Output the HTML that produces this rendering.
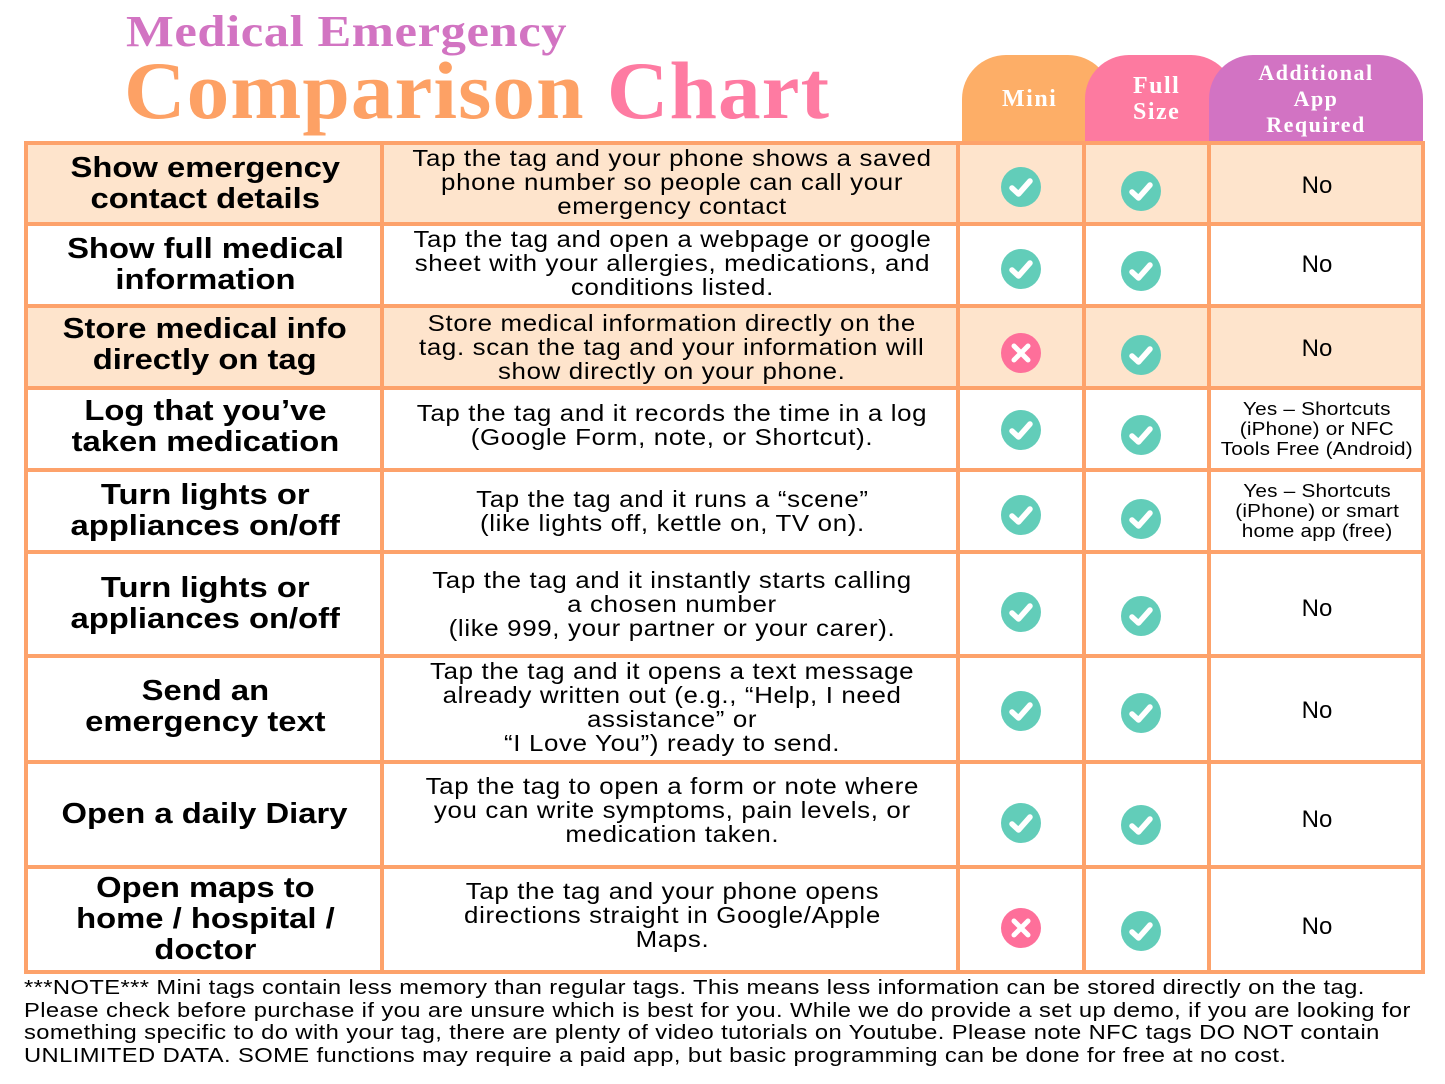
<!DOCTYPE html>
<html><head><meta charset="utf-8"><style>
body{margin:0;width:1445px;height:1084px;background:#fff;position:relative;overflow:hidden;font-family:"Liberation Sans",sans-serif}
.a{position:absolute}
.t1{left:126px;top:6px;font:bold 44px "Liberation Serif",serif;color:#d274c2;letter-spacing:0.5px;transform:scaleX(1.15);transform-origin:left}
.t2{left:124px;top:44px;font:bold 82px "Liberation Serif",serif;color:#fda165;letter-spacing:1px;transform:scaleX(1.04);transform-origin:left}
.t2 span{color:#fe7ba2}
.tab{position:absolute;top:55px;height:88px;border-radius:44px 44px 0 0;color:#fff;font:bold 24px "Liberation Serif",serif;display:flex;align-items:center;justify-content:center;text-align:center;line-height:26px;letter-spacing:1.5px}
.hl{position:absolute;left:24px;width:1401px;height:4px;background:#fda26b}
.vl{position:absolute;top:141px;height:833px;width:4px;background:#fda26b}
.bg{position:absolute;left:24px;width:1401px;background:#fee4cc}
.c{position:absolute;display:flex;align-items:center;justify-content:center;text-align:center;color:#000}
.c>span{display:inline-block;white-space:nowrap}
.f{left:28px;width:354px;font-weight:bold;font-size:29px;line-height:31px}
.f>span{transform:scaleX(1.13)}
.d{left:386px;width:572px;font-size:23.5px;line-height:24px;letter-spacing:0.6px}
.d>span{transform:scaleX(1.1)}
.n{left:1213px;width:208px;font-size:24px}
.y{left:1213px;width:208px;font-size:18.5px;line-height:20px;letter-spacing:0.2px}
.y>span{transform:scaleX(1.12)}
.ic{position:absolute;width:40px;height:40px}
.foot{left:24px;top:977px;font-size:20.3px;line-height:22.6px;color:#000;white-space:nowrap;letter-spacing:0.35px;transform:scaleX(1.17);transform-origin:left}
</style></head><body>
<div class="a t1">Medical Emergency</div>
<div class="a t2">Comparison <span>Chart</span></div>
<div class="tab" style="left:962px;width:150px;background:#fdae67;justify-content:flex-start;padding-left:40px;box-sizing:border-box">Mini</div>
<div class="tab" style="left:1085px;width:150px;background:#fd7aa0;justify-content:flex-start;padding-left:48px;box-sizing:border-box">Full<br>Size</div>
<div class="tab" style="left:1209px;width:214px;background:#d273c3;font-size:22px;line-height:26px">Additional<br>App<br>Required</div>

<div class="bg" style="top:143px;height:81px"></div>
<div class="bg" style="top:306px;height:82px"></div>

<div class="hl" style="top:141px"></div>
<div class="hl" style="top:222px"></div>
<div class="hl" style="top:304px"></div>
<div class="hl" style="top:386px"></div>
<div class="hl" style="top:468px"></div>
<div class="hl" style="top:550px"></div>
<div class="hl" style="top:654px"></div>
<div class="hl" style="top:760px"></div>
<div class="hl" style="top:865px"></div>
<div class="hl" style="top:970px"></div>
<div class="vl" style="left:24px"></div>
<div class="vl" style="left:380px"></div>
<div class="vl" style="left:956px"></div>
<div class="vl" style="left:1082px"></div>
<div class="vl" style="left:1207px"></div>
<div class="vl" style="left:1421px"></div>

<div class="c f" style="top:145px;height:77px"><span>Show emergency<br>contact details</span></div>
<div class="c d" style="top:143px;height:77px"><span>Tap the tag and your phone shows a saved<br>phone number so people can call your<br>emergency contact</span></div>
<div class="c n" style="top:147px;height:77px">No</div>

<div class="c f" style="top:226px;height:78px"><span>Show full medical<br>information</span></div>
<div class="c d" style="top:224px;height:78px"><span>Tap the tag and open a webpage or google<br>sheet with your allergies, medications, and<br>conditions listed.</span></div>
<div class="c n" style="top:226px;height:78px">No</div>

<div class="c f" style="top:306px;height:78px"><span>Store medical info<br>directly on tag</span></div>
<div class="c d" style="top:308px;height:78px"><span>Store medical information directly on the<br>tag. scan the tag and your information will<br>show directly on your phone.</span></div>
<div class="c n" style="top:310px;height:78px">No</div>

<div class="c f" style="top:392px;height:70px"><span>Log that you’ve<br>taken medication</span></div>
<div class="c d" style="top:390px;height:70px"><span>Tap the tag and it records the time in a log<br>(Google Form, note, or Shortcut).</span></div>
<div class="c y" style="top:390px;height:78px"><span>Yes – Shortcuts<br>(iPhone) or NFC<br>Tools Free (Android)</span></div>

<div class="c f" style="top:472px;height:78px"><span>Turn lights or<br>appliances on/off</span></div>
<div class="c d" style="top:472px;height:78px"><span>Tap the tag and it runs a “scene”<br>(like lights off, kettle on, TV on).</span></div>
<div class="c y" style="top:472px;height:78px"><span>Yes – Shortcuts<br>(iPhone) or smart<br>home app (free)</span></div>

<div class="c f" style="top:556px;height:96px"><span>Turn lights or<br>appliances on/off</span></div>
<div class="c d" style="top:556px;height:96px"><span>Tap the tag and it instantly starts calling<br>a chosen number<br>(like 999, your partner or your carer).</span></div>
<div class="c n" style="top:556px;height:106px">No</div>

<div class="c f" style="top:656px;height:102px"><span>Send an<br>emergency text</span></div>
<div class="c d" style="top:656px;height:102px"><span>Tap the tag and it opens a text message<br>already written out (e.g., “Help, I need<br>assistance” or<br>“I Love You”) ready to send.</span></div>
<div class="c n" style="top:658px;height:106px">No</div>

<div class="c f" style="top:764px;height:101px"><span>Open a daily Diary</span></div>
<div class="c d" style="top:764px;height:92px"><span>Tap the tag to open a form or note where<br>you can write symptoms, pain levels, or<br>medication taken.</span></div>
<div class="c n" style="top:764px;height:112px">No</div>

<div class="c f" style="top:869px;height:101px"><span>Open maps to<br>home / hospital /<br>doctor</span></div>
<div class="c d" style="top:869px;height:92px"><span>Tap the tag and your phone opens<br>directions straight in Google/Apple<br>Maps.</span></div>
<div class="c n" style="top:869px;height:116px">No</div>

<svg width="0" height="0" style="position:absolute"><defs>
<g id="ok"><circle cx="20" cy="20" r="20" fill="#62cdb9"/><path d="M11 21 L17.5 27 L29 14" stroke="#fff" stroke-width="5.5" fill="none" stroke-linecap="round" stroke-linejoin="round"/></g>
<g id="no"><circle cx="20" cy="20" r="20" fill="#fe6f9a"/><path d="M13 13 L27 27 M27 13 L13 27" stroke="#fff" stroke-width="5" stroke-linecap="round"/></g>
</defs></svg>
<svg class="ic" style="left:1001px;top:167px"><use href="#ok"/></svg><svg class="ic" style="left:1121px;top:171px"><use href="#ok"/></svg>
<svg class="ic" style="left:1001px;top:249px"><use href="#ok"/></svg><svg class="ic" style="left:1121px;top:251px"><use href="#ok"/></svg>
<svg class="ic" style="left:1001px;top:333px"><use href="#no"/></svg><svg class="ic" style="left:1121px;top:335px"><use href="#ok"/></svg>
<svg class="ic" style="left:1001px;top:410px"><use href="#ok"/></svg><svg class="ic" style="left:1121px;top:415px"><use href="#ok"/></svg>
<svg class="ic" style="left:1001px;top:495px"><use href="#ok"/></svg><svg class="ic" style="left:1121px;top:499px"><use href="#ok"/></svg>
<svg class="ic" style="left:1001px;top:592px"><use href="#ok"/></svg><svg class="ic" style="left:1121px;top:596px"><use href="#ok"/></svg>
<svg class="ic" style="left:1001px;top:691px"><use href="#ok"/></svg><svg class="ic" style="left:1121px;top:693px"><use href="#ok"/></svg>
<svg class="ic" style="left:1001px;top:803px"><use href="#ok"/></svg><svg class="ic" style="left:1121px;top:805px"><use href="#ok"/></svg>
<svg class="ic" style="left:1001px;top:908px"><use href="#no"/></svg><svg class="ic" style="left:1121px;top:911px"><use href="#ok"/></svg>

<div class="a foot">***NOTE*** Mini tags contain less memory than regular tags. This means less information can be stored directly on the tag.<br>Please check before purchase if you are unsure which is best for you. While we do provide a set up demo, if you are looking for<br>something specific to do with your tag, there are plenty of video tutorials on Youtube. Please note NFC tags DO NOT contain<br>UNLIMITED DATA. SOME functions may require a paid app, but basic programming can be done for free at no cost.</div>
</body></html>
